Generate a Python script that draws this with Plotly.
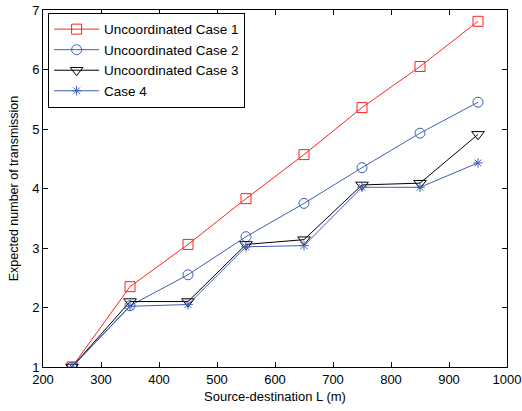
import plotly.graph_objects as go

L = [250, 350, 450, 550, 650, 750, 850, 950]
case1 = [1.0, 2.35, 3.06, 3.83, 4.57, 5.36, 6.05, 6.81]
case2 = [1.0, 2.03, 2.55, 3.19, 3.75, 4.35, 4.93, 5.45]
case3 = [1.0, 2.10, 2.10, 3.06, 3.14, 4.06, 4.09, 4.91]
case4 = [1.0, 2.02, 2.05, 3.02, 3.04, 4.02, 4.02, 4.43]

names = ["Uncoordinated Case 1", "Uncoordinated Case 2", "Uncoordinated Case 3", "Case 4"]
colors = ["#ff2020", "#3f5fb5", "#000000", "#3f5fb5"]
symbols = ["square-open", "circle-open", "triangle-down-open", "asterisk-open"]
sizes = [10, 10, 11, 8]

FONT = "Liberation Sans, Arial"

fig = go.Figure()
for y, n, c, s, sz in zip([case1, case2, case3, case4], names, colors, symbols, sizes):
    fig.add_trace(go.Scatter(
        x=L, y=y, name=n, mode="lines+markers",
        line=dict(color=c, width=1),
        marker=dict(symbol=s, size=sz, color=c, line=dict(color=c, width=1)),
    ))

axis_common = dict(
    showline=True, linecolor="black", linewidth=1, mirror="ticks",
    ticks="inside", ticklen=5, tickcolor="black", showgrid=False, zeroline=False,
    automargin=False,
    tickfont=dict(family=FONT, size=13, color="black"),
)
fig.update_xaxes(range=[200, 1000], dtick=100, title=dict(text="Source-destination L (m)", standoff=6,
                 font=dict(family=FONT, size=13, color="black")), **axis_common)
fig.update_yaxes(range=[1, 7], dtick=1, title=dict(text="Expected number of transmission", standoff=10,
                 font=dict(family=FONT, size=12.5, color="black")), **axis_common)

fig.update_layout(
    width=522, height=411,
    margin=dict(l=43, r=15, t=10, b=44),
    plot_bgcolor="white", paper_bgcolor="white",
    font=dict(family=FONT, size=13, color="black"),
    legend=dict(x=0.011, y=0.992, xanchor="left", yanchor="top",
                bordercolor="black", borderwidth=1, bgcolor="white",
                font=dict(family=FONT, size=13.5, color="black"), tracegroupgap=0, itemwidth=45),
    showlegend=True,
)
fig.write_html("out.html", config={"displayModeBar": False},
               post_script="document.body.style.margin='0';document.body.style.overflow='hidden';")
